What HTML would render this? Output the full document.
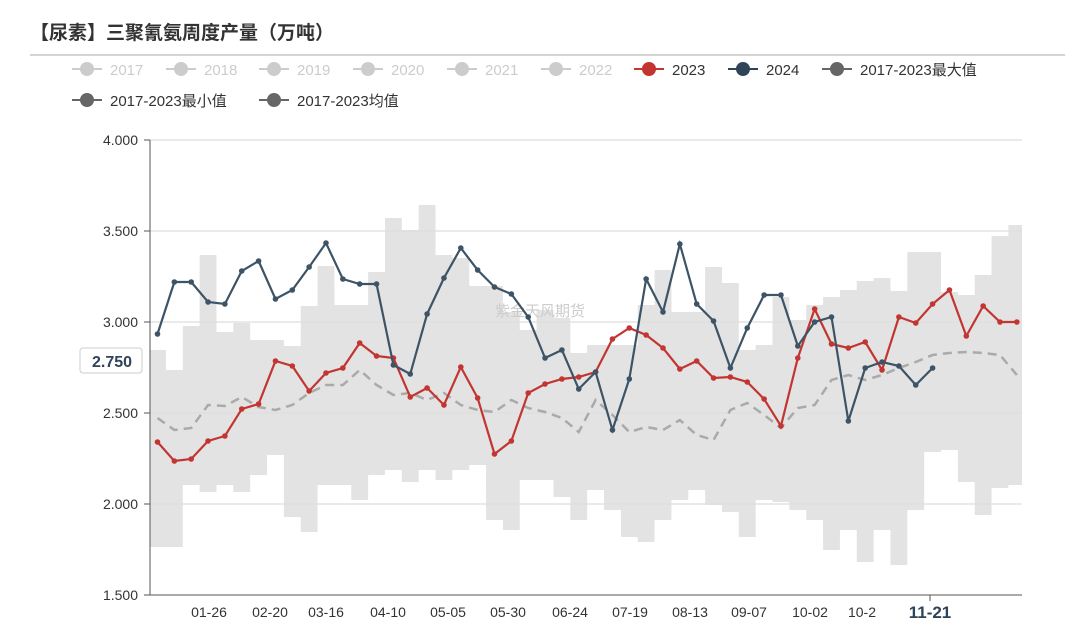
<!DOCTYPE html>
<html><head><meta charset="utf-8"><style>
body{margin:0;background:#fff;width:1080px;height:630px;overflow:hidden;font-family:"Liberation Sans","Noto Sans CJK SC",sans-serif}
</style></head><body>
<svg id="s" width="1080" height="630" xmlns="http://www.w3.org/2000/svg" font-family="Liberation Sans, Noto Sans CJK SC, sans-serif">
<text x="30" y="39" font-size="19" font-weight="bold" fill="#333">【尿素】三聚氰氨周度产量（万吨）</text>
<line x1="30" y1="55" x2="1065" y2="55" stroke="#aaa" stroke-width="1"/>
<g id="g"></g>
</svg>
<script>
(function(){
const NS="http://www.w3.org/2000/svg",g=document.getElementById('g');
function el(t,a,txt){const e=document.createElementNS(NS,t);for(const k in a)e.setAttribute(k,a[k]);if(txt!=null)e.textContent=txt;g.appendChild(e);return e;}
const X=i=>157.5+i*16.85;
const maxTop=[350,370,326,255,332,323,340,340,346,306,266,305,305,272,218,230,205,255,258,286,286,312,330,310,318,353,345,345,345,305,270,312,312,267,283,350,345,297,320,305,297,290,281,278,291,252,252,292,295,275,236,225];
const bot=[547,547,485,492,485,492,475,455,517,532,485,485,500,475,470,482,470,480,470,465,520,530,480,480,497,520,490,510,537,542,520,500,490,505,512,537,500,502,510,520,550,530,562,530,565,510,452,450,482,515,488,485];
let d="M150 "+maxTop[0];
for(let i=0;i<52;i++){const x0=i==0?150:X(i)-8.4,x1=i==51?1022:X(i)+8.4;d+=` L${x0} ${maxTop[i]} L${x1} ${maxTop[i]}`;}
for(let i=51;i>=0;i--){const x0=i==0?150:X(i)-8.4,x1=i==51?1022:X(i)+8.4;d+=` L${x1} ${bot[i]} L${x0} ${bot[i]}`;}
el('path',{d:d+"Z",fill:"#e3e3e3"});
[140,231,322,413,504].forEach(y=>el('line',{x1:150,x2:1022,y1:y,y2:y,stroke:"#ddd","stroke-width":1.2}));
el('line',{x1:150,x2:1022,y1:595,y2:595,stroke:"#555"});
el('line',{x1:150,x2:150,y1:140,y2:595,stroke:"#555"});
[["4.000",140],["3.500",231],["3.000",322],["2.500",413],["2.000",504],["1.500",595]].forEach(([t,y])=>{el('text',{x:138,y:y+5,"text-anchor":"end","font-size":14,fill:"#333"},t);el('line',{x1:144,x2:150,y1:y,y2:y,stroke:"#555"});});
[["01-26",209],["02-20",270],["03-16",326],["04-10",388],["05-05",448],["05-30",508],["06-24",570],["07-19",630],["08-13",690],["09-07",749],["10-02",810],["10-2",862]].forEach(([t,x])=>el('text',{x:x,y:617,"text-anchor":"middle","font-size":14,fill:"#333"},t));
el('text',{x:930,y:618,"text-anchor":"middle","font-size":17,"font-weight":"bold",fill:"#2e4459"},"11-21");
el('line',{x1:930,x2:930,y1:595,y2:601,stroke:"#555"});
el('text',{x:540,y:316,"text-anchor":"middle","font-size":15,fill:"#ccc"},"紫金天风期货");
const mean=[418,430,428,405,406,397,407,410,405,393,385,385,370,385,395,393,400,393,405,410,412,400,408,412,418,432,400,415,432,427,430,420,435,440,410,403,415,428,408,405,380,375,380,375,368,362,355,353,352,353,355,375];
el('polyline',{points:mean.map((y,i)=>X(i)+","+y).join(" "),fill:"none",stroke:"#aaa","stroke-width":2.5,"stroke-dasharray":"9 6"});
const red=[442,461,459,441,436,409,404,361,366,391,373,368,343,356,358,397,388,405,367,398,454,441,393,384,379,377,372,339,328,335,348,369,361,378,377,382,399,426,358,309,344,348,342,370,317,323,304,290,336,306,322,322];
const blue=[334,282,282,302,304,271,261,299,290,267,243,279,284,284,365,374,314,278,248,270,287,294,317,358,350,389,372,430,379,279,312,244,304,321,368,328,295,295,346,322,317,421,368,362,366,385,368];
[[red,"#c23531"],[blue,"#3d5366"]].forEach(([a,c])=>{el('polyline',{points:a.map((y,i)=>X(i)+","+y).join(" "),fill:"none",stroke:c,"stroke-width":2.2});a.forEach((y,i)=>el('circle',{cx:X(i),cy:y,r:2.8,fill:c}));});
el('rect',{x:80,y:348,width:62,height:25,rx:3,fill:"#fff",stroke:"#ccc"});
el('text',{x:112,y:367,"text-anchor":"middle","font-size":16,"font-weight":"bold",fill:"#2e4459"},"2.750");
const leg=[["2017",72,69,"#ccc","#ccc"],["2018",166,69,"#ccc","#ccc"],["2019",259,69,"#ccc","#ccc"],["2020",353,69,"#ccc","#ccc"],["2021",447,69,"#ccc","#ccc"],["2022",541,69,"#ccc","#ccc"],["2023",634,69,"#c23531","#333"],["2024",728,69,"#2e4459","#333"],["2017-2023最大值",822,69,"#666","#333"],["2017-2023最小值",72,100,"#666","#333"],["2017-2023均值",259,100,"#666","#333"]];
leg.forEach(([t,x,y,c,tc])=>{el('line',{x1:x,x2:x+30,y1:y,y2:y,stroke:c,"stroke-width":2});el('circle',{cx:x+15,cy:y,r:7,fill:c});el('text',{x:x+38,y:y+6,"font-size":15,fill:tc},t);});
})();
</script>
</body></html>
